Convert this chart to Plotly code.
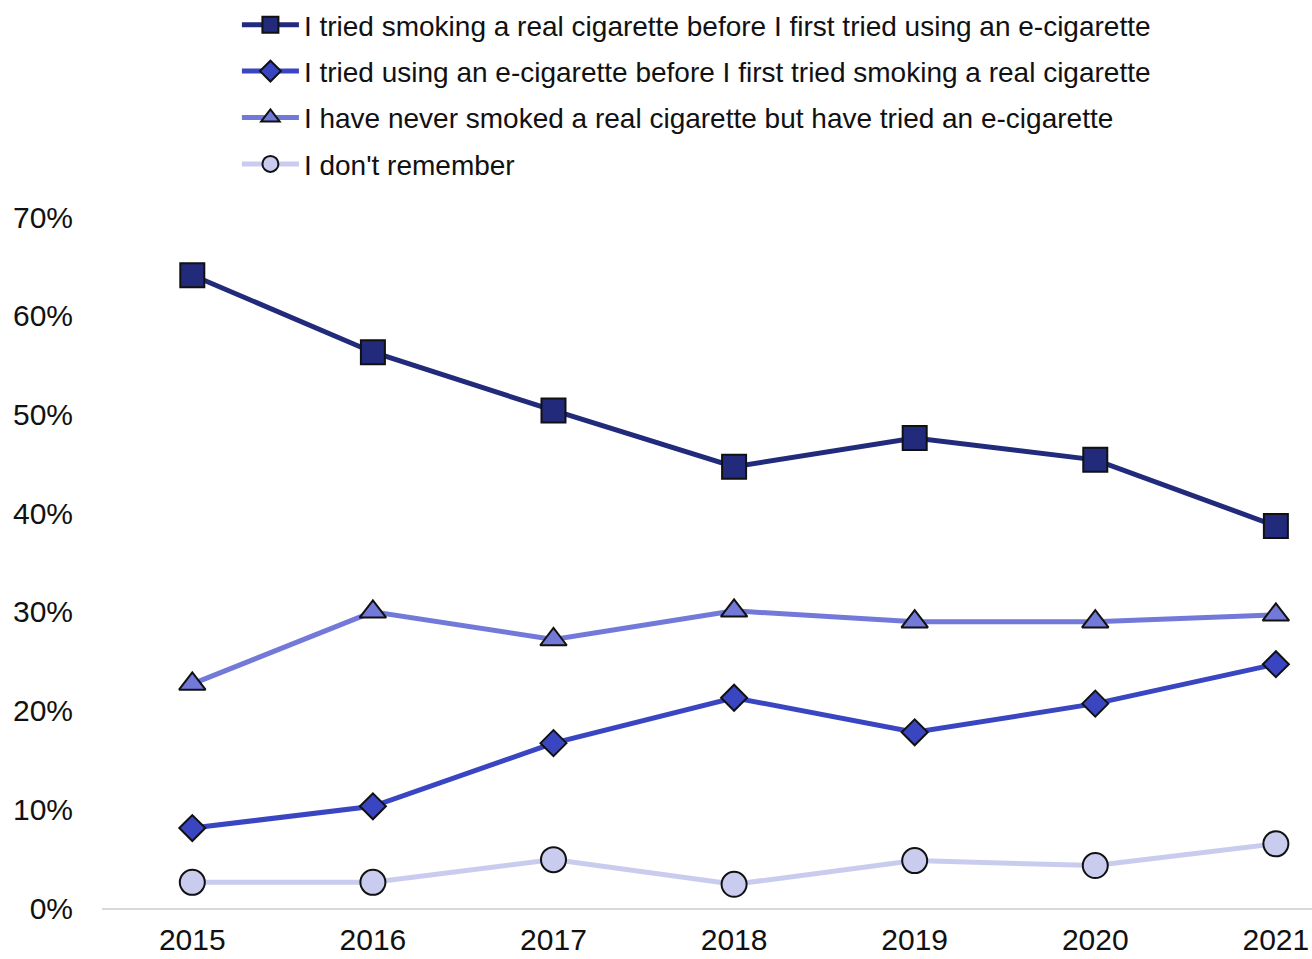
import plotly.graph_objects as go

years = [2015, 2016, 2017, 2018, 2019, 2020, 2021]
tick_labels = ["2015", "2016", "2017", "2018", "2019", "2020", "2021"]

names = [
    "I tried smoking a real cigarette before I first tried using an e-cigarette",
    "I tried using an e-cigarette before I first tried smoking a real cigarette",
    "I have never smoked a real cigarette but have tried an e-cigarette",
    "I don't remember",
]
cig_first = [64.1, 56.3, 50.4, 44.7, 47.6, 45.4, 38.7]
ecig_first = [8.1, 10.3, 16.7, 21.3, 17.8, 20.7, 24.7]
never_smoked = [22.7, 30.0, 27.2, 30.1, 29.0, 29.0, 29.7]
dont_remember = [2.6, 2.6, 4.9, 2.4, 4.8, 4.3, 6.5]

series = [cig_first, ecig_first, never_smoked, dont_remember]
colors = ["#222a7b", "#3a45c2", "#7279d9", "#c9ccef"]
symbols = ["square", "diamond", "triangle-up", "circle"]
sizes = [24, 20, 23, 25]

fig = go.Figure()
for i, (vals, name) in enumerate(zip(series, names)):
    fig.add_trace(go.Scatter(
        x=years, y=vals, name=name, mode="lines+markers",
        legendgroup=f"g{i}",
        line=dict(color=colors[i], width=5),
        marker=dict(symbol=symbols[i], size=sizes[i], color=colors[i],
                    line=dict(color="#111111", width=2)),
        cliponaxis=False,
    ))

font = "Liberation Sans, Arial, sans-serif"
fig.update_layout(
    width=1312, height=959,
    margin=dict(l=102, r=0, t=217, b=51),
    paper_bgcolor="white", plot_bgcolor="white",
    font=dict(family=font, color="#111111"),
    showlegend=True,
    legend=dict(
        x=0.1115, xanchor="left", y=1.005, yref="container", yanchor="top",
        font=dict(size=28, family=font, color="#111111"),
        traceorder="grouped", tracegroupgap=7, itemwidth=57,
        bgcolor="rgba(0,0,0,0)",
    ),
    xaxis=dict(
        range=[2014.5, 2021.2], tickmode="array", tickvals=years, ticktext=tick_labels,
        showgrid=False, zeroline=False, showline=True, linecolor="#d9d9d9", linewidth=2,
        ticks="", tickfont=dict(size=30), ticklabelstandoff=4, automargin=False,
    ),
    yaxis=dict(
        range=[0, 70], tickmode="array", tickvals=[0, 10, 20, 30, 40, 50, 60, 70],
        ticktext=["0%", "10%", "20%", "30%", "40%", "50%", "60%", "70%"],
        showgrid=False, zeroline=False, showline=False, ticks="",
        tickfont=dict(size=30), ticklabelstandoff=28, automargin=False,
    ),
)
fig.write_html("out.html", config={"displayModeBar": False},
               post_script="document.body.style.margin='0';document.body.style.overflow='hidden';")
